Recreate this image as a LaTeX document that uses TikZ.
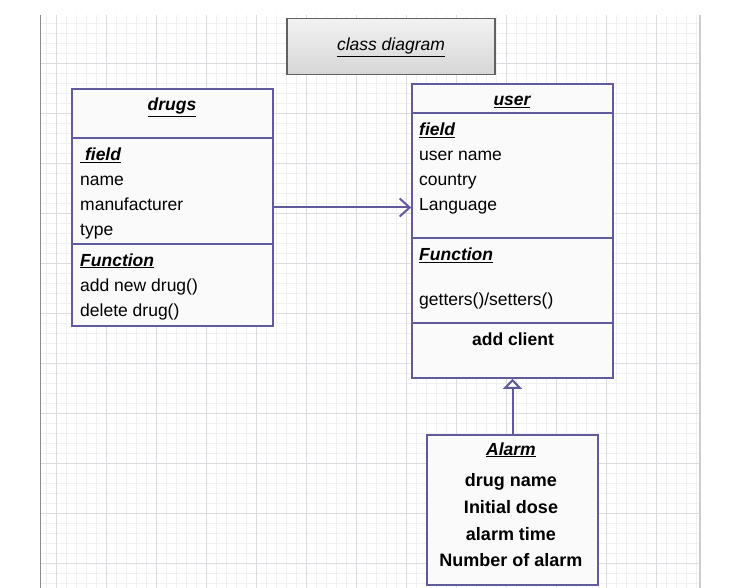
\documentclass[tikz,border=0pt]{standalone}
\usepackage{fontspec}
\setmainfont{Liberation Sans}
\usetikzlibrary{arrows.meta, positioning}
\definecolor{umlblue}{RGB}{96,90,158}
\definecolor{minorgrid}{RGB}{240,240,242}
\definecolor{majorgrid}{RGB}{220,220,224}

\begin{document}
\begin{tikzpicture}[
  x=1pt, y=-1pt,
  umlbox/.style={rectangle, draw=umlblue, line width=1.7pt, fill=white!98!black, inner sep=0pt},
  titlebox/.style={rectangle, draw=black!62, line width=1.7pt, top color=white!95!black, bottom color=white!84!black, inner sep=0pt},
  txt/.style={anchor=base west, inner sep=0pt, font=\fontsize{17.5}{21}\selectfont},
  ctxt/.style={anchor=base, inner sep=0pt, font=\fontsize{17.5}{21}\selectfont},
  divider/.style={draw=umlblue, line width=1.7pt},
  relation/.style={draw=umlblue, line width=2pt}]

  \useasboundingbox (0,0) rectangle (747,588);

  % paper grid
  \begin{scope}[shift={(6.7,13)}]
    \draw[minorgrid, line width=0.8pt, step=10pt] (33.3,2) grid (693.3,575);
    \draw[majorgrid, line width=0.8pt, step=50pt] (33.3,2) grid (693.3,575);
  \end{scope}
  \draw[black!45, line width=1pt] (40,15) -- (40,588);
  \draw[black!20, line width=1.4pt] (700,15) -- (700,588);

  % title
  \node[titlebox, minimum width=208pt, minimum height=56pt] (title) at (391,46.5) {};
  \node[ctxt] (titletxt) at (391,51) {\itshape\underline{class diagram}};

  % class drugs
  \node[umlbox, minimum width=201pt, minimum height=237pt] (drugs) at (172.5,207.5) {};
  \draw[divider] ([yshift=-50pt]drugs.north west) -- ([yshift=-50pt]drugs.north east);
  \draw[divider] ([yshift=-156pt]drugs.north west) -- ([yshift=-156pt]drugs.north east);
  \node[ctxt] (dname) at (172,111) {\bfseries\itshape\underline{drugs}};
  \node[txt] (dfield) at (80,161) {\bfseries\itshape\underline{\ field}};
  \node[txt] (d1) at (80,186) {name};
  \node[txt] (d2) at (80,211) {manufacturer};
  \node[txt] (d3) at (80,236) {type};
  \node[txt] (dfunc) at (80,266) {\bfseries\itshape\underline{Function}};
  \node[txt] (d4) at (80,291) {add new drug()};
  \node[txt] (d5) at (80,316) {delete drug()};

  % class user
  \node[umlbox, minimum width=201pt, minimum height=294pt] (user) at (512.5,231) {};
  \draw[divider] ([yshift=-30pt]user.north west) -- ([yshift=-30pt]user.north east);
  \draw[divider] ([yshift=-155pt]user.north west) -- ([yshift=-155pt]user.north east);
  \draw[divider] ([yshift=-240pt]user.north west) -- ([yshift=-240pt]user.north east);
  \node[ctxt] (uname) at (512,106) {\bfseries\itshape\underline{user}};
  \node[txt] (ufield) at (419,136) {\bfseries\itshape\underline{field}};
  \node[txt] (u1) at (419,161) {user name};
  \node[txt] (u2) at (419,186) {country};
  \node[txt] (u3) at (419,211) {Language};
  \node[txt] (ufunc) at (419,261) {\bfseries\itshape\underline{Function}};
  \node[txt] (u4) at (419,305) {getters()/setters()};
  \node[ctxt] (u5) at (513,345) {\bfseries add client};

  % class Alarm
  \node[umlbox, minimum width=171pt, minimum height=150pt] (alarm) at (512.5,510) {};
  \node[ctxt] (aname) at (511,455) {\bfseries\itshape\underline{Alarm}};
  \node[ctxt, font=\fontsize{18}{21}\selectfont] (a1) at (511,486) {\bfseries drug name};
  \node[ctxt, font=\fontsize{18}{21}\selectfont] (a2) at (511,513) {\bfseries Initial dose};
  \node[ctxt, font=\fontsize{18}{21}\selectfont] (a3) at (511,540) {\bfseries alarm time};
  \node[ctxt, font=\fontsize{18}{21}\selectfont] (a4) at (511,566) {\bfseries Number of alarm};

  % relations
  \draw[relation, -{Straight Barb[length=10pt, width=18pt]}]
    (drugs.east) -- (drugs.east -| user.west);
  \draw[relation, -{Triangle[open, fill=white, length=10pt, width=19pt]}]
    (alarm.north -| user.south) -- (user.south);
\end{tikzpicture}
\end{document}
